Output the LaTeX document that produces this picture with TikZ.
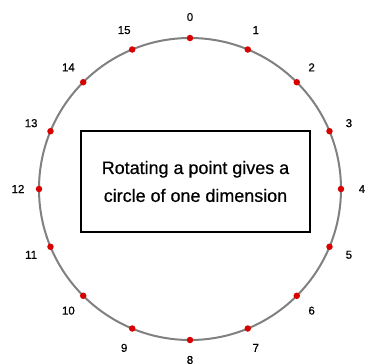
\documentclass[tikz,border=0pt]{standalone}
\usepackage{fontspec}
\setmainfont{Liberation Sans}
\newfontfamily\heavyfont[FakeBold=0.6]{Liberation Sans}
\usetikzlibrary{positioning}

\begin{document}
\begin{tikzpicture}[x=1bp,y=1bp,
  dot/.style={circle,fill=red!85!black,minimum size=6.5bp,inner sep=0pt},
  lbl/.style={font=\heavyfont\fontsize{11.5}{13}\selectfont,inner sep=0pt},
  ring/.style={draw=black!50,line width=2bp}]
\useasboundingbox (-190,-175) rectangle (175,189);
\draw[ring] (0,0) circle (151);
\node[dot] (p0) at (90:151) {};
\node[lbl] (l0) at (90:172) {0};
\node[dot] (p1) at (67.5:151) {};
\node[lbl] (l1) at (67.5:172) {1};
\node[dot] (p2) at (45:151) {};
\node[lbl] (l2) at (45:172) {2};
\node[dot] (p3) at (22.5:151) {};
\node[lbl] (l3) at (22.5:172) {3};
\node[dot] (p4) at (0:151) {};
\node[lbl] (l4) at (0:172) {4};
\node[dot] (p5) at (-22.5:151) {};
\node[lbl] (l5) at (-22.5:172) {5};
\node[dot] (p6) at (-45:151) {};
\node[lbl] (l6) at (-45:172) {6};
\node[dot] (p7) at (-67.5:151) {};
\node[lbl] (l7) at (-67.5:172) {7};
\node[dot] (p8) at (-90:151) {};
\node[lbl] (l8) at (-90:171) {8};
\node[dot] (p9) at (-112.5:151) {};
\node[lbl] (l9) at (-112.5:172) {9};
\node[dot] (p10) at (-135:151) {};
\node[lbl] (l10) at (-135:172) {10};
\node[dot] (p11) at (-157.5:151) {};
\node[lbl] (l11) at (-157.5:172) {11};
\node[dot] (p12) at (180:151) {};
\node[lbl] (l12) at (180:172) {12};
\node[dot] (p13) at (157.5:151) {};
\node[lbl] (l13) at (157.5:172) {13};
\node[dot] (p14) at (135:151) {};
\node[lbl] (l14) at (135:172) {14};
\node[dot] (p15) at (112.5:151) {};
\node[lbl] (l15) at (112.5:172) {15};
\node[draw,line width=1.3bp,minimum width=229bp,minimum height=101bp,align=center,
  font=\heavyfont\fontsize{18}{28}\selectfont] (note) at (5.5,7.5) {Rotating a point gives a\\circle of one dimension};
\end{tikzpicture}
\end{document}
